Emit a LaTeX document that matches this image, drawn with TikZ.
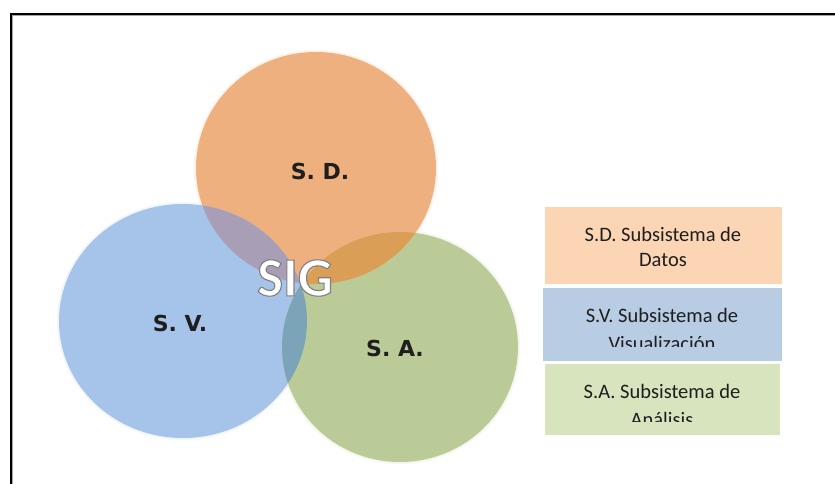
\documentclass[tikz,border=0pt]{standalone}
\usepackage{fontspec}
\setmainfont{Carlito}
\newfontfamily\lblfont{DejaVu Sans}
\definecolor{cor}{RGB}{239,176,127}
\definecolor{cbl}{RGB}{166,195,233}
\definecolor{cgr}{RGB}{187,203,152}
\definecolor{cob}{RGB}{168,158,182}
\definecolor{cog}{RGB}{218,158,86}
\definecolor{cbg}{RGB}{124,164,184}
\definecolor{lor}{RGB}{252,213,180}
\definecolor{lbl}{RGB}{184,204,228}
\definecolor{lgr}{RGB}{215,228,189}
\definecolor{txt}{RGB}{30,30,30}
\tikzset{
  legbox/.style={fill=#1, inner sep=0pt, anchor=north west},
  legtxt/.style={font=\fontsize{20.5}{24}\selectfont, text=txt, anchor=base, inner sep=0pt},
  circlbl/.style={font=\lblfont\bfseries\fontsize{22}{24}\selectfont, text=txt, inner sep=0pt},
}
\newcommand{\outlinedtext}[1]{\special{pdf:literal direct 2 Tr 1.1 w 0.5 0.5 0.5 RG}#1\special{pdf:literal direct 0 Tr}}
\begin{document}
\begin{tikzpicture}[x=1pt,y=-1pt]
\useasboundingbox (0,0) rectangle (835,484);
\fill[white] (0,0) rectangle (835,484);
% frame
\draw[gray!70, line width=1pt] (12.6,484) -- (12.6,15.6) -- (835,15.6);
\draw[black, line width=1.8pt] (11,484) -- (11,14) -- (835,14);
% soft halos
\fill[cor, opacity=0.15] (316,168) ellipse [x radius=122pt, y radius=118pt];
\fill[cbl, opacity=0.15] (183,321) ellipse [x radius=126pt, y radius=119pt];
\fill[cgr, opacity=0.15] (400,347) ellipse [x radius=120pt, y radius=117pt];
% circles
\def\OR{(316,168) ellipse [x radius=120pt, y radius=116pt]}
\def\BL{(183,321) ellipse [x radius=124pt, y radius=117pt]}
\def\GR{(400,347) ellipse [x radius=118pt, y radius=115pt]}
\fill[cor] \OR;
\fill[cbl] \BL;
\fill[cgr] \GR;
\begin{scope}
  \clip \OR;
  \fill[cob] \BL;
  \fill[cog] \GR;
\end{scope}
\begin{scope}
  \clip \BL;
  \fill[cbg] \GR;
\end{scope}
\node[circlbl] (sd) at (320,171) {S. D.};
\node[circlbl] (sv) at (180,323) {S. V.};
\node[circlbl] (sa) at (395,348) {S. A.};
% SIG
\node[font=\bfseries\fontsize{55}{55}\selectfont, text=white, inner sep=0pt] (sig) at (295,278) {\outlinedtext{SIG}};
% legend
\node[legbox=lor, minimum width=237pt, minimum height=77pt] (bsd) at (545,207) {};
\node[legbox=lbl, minimum width=239pt, minimum height=73pt] (bsv) at (543,288) {};
\node[legbox=lgr, minimum width=235pt, minimum height=71pt] (bsa) at (545,364) {};
\node[legtxt] (tsd1) at (663,241) {S.D. Subsistema de};
\node[legtxt] (tsd2) at (663,266) {Datos};
\node[legtxt] (tsv1) at (662,322) {S.V. Subsistema de};
\begin{scope}
  \clip (543,288) rectangle (782,346);
  \node[legtxt] (tsv2) at (662,350) {Visualización};
\end{scope}
\node[legtxt] (tsa1) at (662,398) {S.A. Subsistema de};
\begin{scope}
  \clip (545,364) rectangle (780,421);
  \node[legtxt] (tsa2) at (662,426) {Análisis};
\end{scope}
\end{tikzpicture}
\end{document}
